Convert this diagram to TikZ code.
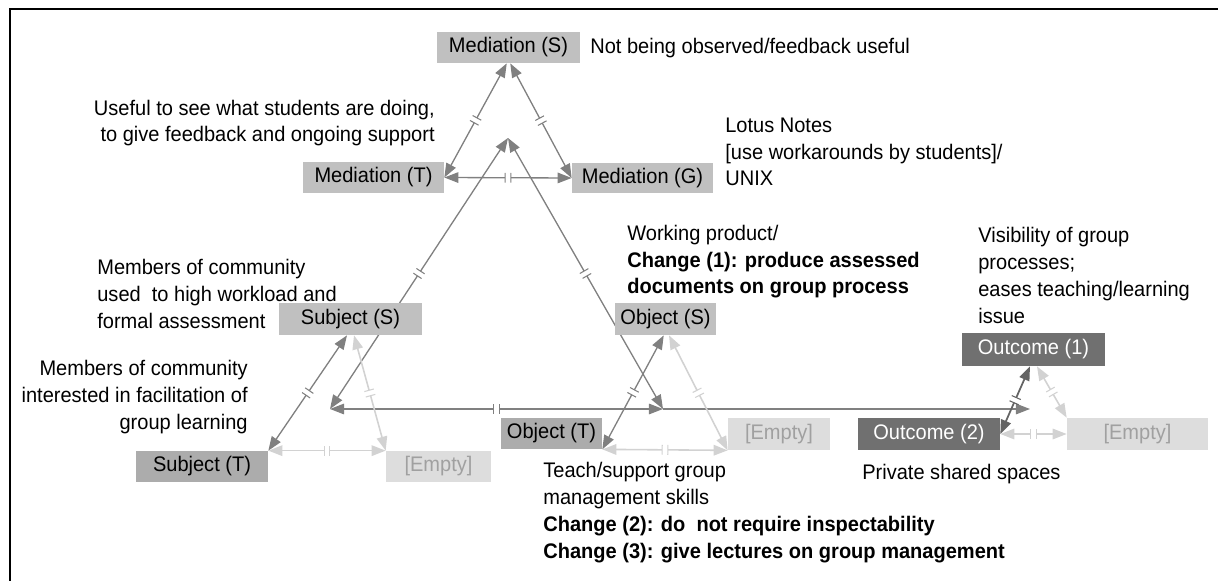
\documentclass[tikz,border=0pt]{standalone}
\usepackage{fontspec}
\setmainfont{Liberation Sans}[FakeStretch=0.95]
\usetikzlibrary{arrows.meta,decorations.markings}
\definecolor{boxgray}{RGB}{192,192,192}
\definecolor{boxdark}{RGB}{172,172,172}
\definecolor{emptyfill}{RGB}{221,221,221}
\definecolor{emptytext}{RGB}{160,160,160}
\definecolor{outfill}{RGB}{112,112,112}
\definecolor{midline}{RGB}{128,128,128}
\definecolor{lightline}{RGB}{210,210,210}
\definecolor{darkline}{RGB}{100,100,100}
\tikzset{>={Triangle[length=8pt,width=6pt]},
  midbar/.style={postaction={decorate,decoration={markings,
      mark=at position 0.5 with {\fill[white] (-1.6pt,-1.2pt) rectangle (1.6pt,1.2pt);
        \draw[#1,line width=0.6pt,-] (-1.6pt,-2.8pt) -- (-1.6pt,2.8pt) (1.6pt,-2.8pt) -- (1.6pt,2.8pt);}}}},
}

\begin{document}
\begin{tikzpicture}[x=0.02cm, y=-0.02cm,
                    font=\fontsize{12}{15.3}\selectfont,
                    elem/.style={inner sep=0pt, minimum height=0.62cm, fill=boxgray},
                    elemT/.style={elem, fill=boxdark},
                    emptybox/.style={elem, fill=emptyfill, text=emptytext},
                    outbox/.style={elem, fill=outfill, text=white},
                    bigarrow/.style={draw=midline, line width=0.75pt, <->},
                    medarrow/.style={draw=midline, line width=0.75pt, <->},
                    lightarrow/.style={draw=lightline, line width=0.9pt, <->},
                    darkarrow/.style={draw=darkline, line width=1pt, <->},
                    note/.style={inner sep=0pt},
                   ]

\useasboundingbox (0,0) rectangle (1218,581);
\draw[line width=1.1pt] (10,581) -- (10,9) -- (1218,9);

% centres of the four small triangles
\coordinate (medC) at (508,138);
\coordinate (subC) at (330,409);
\coordinate (objC) at (663,409);
\coordinate (outC) at (1030,409);

\draw[bigarrow, midbar=midline] (subC) -- (medC);
\draw[bigarrow, midbar=midline] (objC) -- (medC);
\draw[bigarrow, midbar=midline] (subC) -- (objC);
\draw[draw=midline, line width=0.75pt, ->] (objC) -- (outC);

% mediation
\node[elem, minimum width=2.86cm] (medS) at (508.5,47.5) {Mediation (S)};
\node[elem, minimum width=2.82cm] (medT) at (373.5,177.5) {Mediation (T)};
\node[elem, minimum width=2.82cm] (medG) at (642.5,178) {Mediation (G)};

\draw[medarrow, midbar=midline] ([xshift=-1pt]medS.south) -- (medT.east);
\draw[medarrow, midbar=midline] ([xshift=1pt]medS.south) -- (medG.west);
\draw[medarrow, midbar=midline] (medT.east) -- (medG.west);

% subject
\node[elem, minimum width=2.86cm, minimum height=0.64cm] (subS) at (350.5,319) {Subject (S)};
\node[elemT, minimum width=2.64cm] (subT) at (202,466.5) {Subject (T)};
\node[emptybox, minimum width=2.10cm] (subE) at (438.5,466.5) {[Empty]};

\draw[medarrow, midbar=midline] ([xshift=-2pt]subS.south) -- (subT.north east);
\draw[lightarrow, midbar=lightline] ([xshift=2pt]subS.south) -- (subE.north west);
\draw[lightarrow, midbar=lightline] (subT.north east) -- (subE.north west);

% object
\node[elem, minimum width=2.02cm, minimum height=0.64cm] (objS) at (665.5,319) {Object (S)};
\node[elemT, minimum width=2.02cm] (objT) at (551.5,433.5) {Object (T)};
\node[emptybox, minimum width=2.04cm, minimum height=0.64cm] (objE) at (779,434) {[Empty]};

\draw[medarrow, midbar=midline] ([xshift=-1pt]objS.south) -- (objT.south east);
\draw[lightarrow, midbar=lightline] ([xshift=2pt]objS.south) -- (objE.south west);
\draw[lightarrow, midbar=lightline] (objT.south east) -- (objE.south west);

% outcome
\node[outbox, minimum width=2.86cm, minimum height=0.66cm] (outA) at (1033.5,349.5) {Outcome (1)};
\node[outbox, minimum width=2.84cm, minimum height=0.64cm] (outB) at (929,434) {Outcome (2)};
\node[emptybox, minimum width=2.82cm, minimum height=0.64cm] (outE) at (1137.5,434) {[Empty]};

\draw[darkarrow, midbar=darkline] ([xshift=-2pt]outA.south) -- (outB.east);
\draw[lightarrow, midbar=lightline] ([xshift=2pt]outA.south) -- (outE.north west);
\draw[lightarrow, midbar=lightline] (outB.east) -- (outE.west);

% comments (base = last line)
\node[note, anchor=base west] (noteMedS) at (590,54) {Not being observed/feedback useful};
\node[note, anchor=base east, align=right] (noteMedT) at (435,142)
  {Useful to see what students are doing,\\to give feedback and ongoing support};
\node[note, anchor=base west, align=left] (noteMedG) at (725,186)
  {Lotus Notes\\{[use workarounds by students]/}\\UNIX};
\node[note, anchor=base west, align=left] (noteSubS) at (97,328)
  {Members of community\\used\ \ to high workload and\\formal assessment};
\node[note, anchor=base east, align=right] (noteSubT) at (248,429)
  {Members of community\\interested in facilitation of\\group learning};
\node[note, anchor=base west, align=left] (noteObjS) at (627,294)
  {Working product/\\\textbf{Change (1): produce assessed}\\\textbf{documents on group process}};
\node[note, anchor=base west, align=left] (noteOutA) at (978,323)
  {Visibility of group\\processes;\\eases teaching/learning\\issue};
\node[note, anchor=base west, align=left] (noteObjT) at (543,558)
  {Teach/support group\\management skills\\\textbf{Change (2): do\ \ not require inspectability}\\\textbf{Change (3): give lectures on group management}};
\node[note, anchor=base west] (noteOutB) at (862,479) {Private shared spaces};

\end{tikzpicture}
\end{document}
